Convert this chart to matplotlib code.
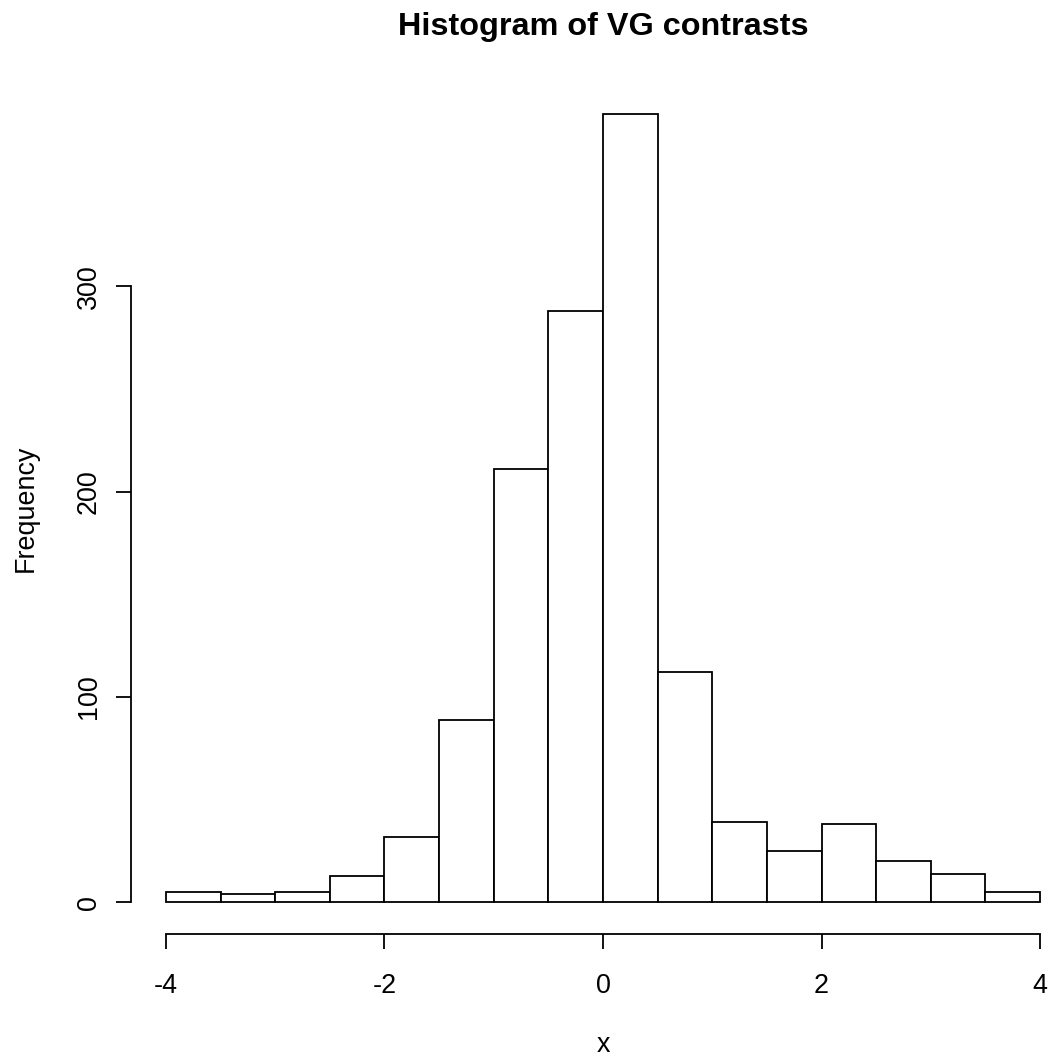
import numpy as np
import matplotlib.pyplot as plt

# histogram of VG contrasts, bins of width 0.5 from -4 to 4
bin_edges = np.arange(-4, 4.01, 0.5)
counts = [5, 4, 5, 13, 32, 89, 211, 288, 384, 112, 39, 25, 38, 20, 14, 5]
x_ticks = [-4, -2, 0, 2, 4]
y_ticks = [0, 100, 200, 300]

plt.rcParams['font.family'] = ['Liberation Sans', 'DejaVu Sans']
base_size = 19.4
lw = 1.3

fig = plt.figure(figsize=(10.5, 10.6), dpi=100)
# R style plot region (4% padding on both axes)
ax = fig.add_axes([131 / 1050, 1 - 934 / 1060, 944 / 1050, 852 / 1060])

widths = np.diff(bin_edges)
ax.bar(bin_edges[:-1], counts, width=widths, align='edge',
       facecolor='white', edgecolor='black', linewidth=lw)

xr = bin_edges[-1] - bin_edges[0]
ax.set_xlim(bin_edges[0] - 0.04 * xr, bin_edges[-1] + 0.04 * xr)
ymax = max(counts)
ax.set_ylim(-0.04 * ymax, 1.04 * ymax)

for s in ['top', 'right']:
    ax.spines[s].set_visible(False)
ax.spines['bottom'].set_bounds(x_ticks[0], x_ticks[-1])
ax.spines['left'].set_bounds(y_ticks[0], y_ticks[-1])
ax.spines['bottom'].set_linewidth(lw)
ax.spines['left'].set_linewidth(lw)

ax.set_xticks(x_ticks)
ax.set_xticklabels([str(v) for v in x_ticks])
ax.set_yticks(y_ticks)
ax.set_yticklabels([str(v) for v in y_ticks], rotation=90, va='center')
ax.tick_params(direction='out', length=11, width=lw, labelsize=base_size)
ax.tick_params(axis='x', pad=17)
ax.tick_params(axis='y', pad=10)

ax.set_title('Histogram of VG contrasts', fontsize=base_size * 1.2,
             fontweight='bold', pad=34)
ax.set_xlabel('x', fontsize=base_size, labelpad=24)
ax.set_ylabel('Frequency', fontsize=base_size, labelpad=27)

fig.savefig('out.png', dpi=100)
